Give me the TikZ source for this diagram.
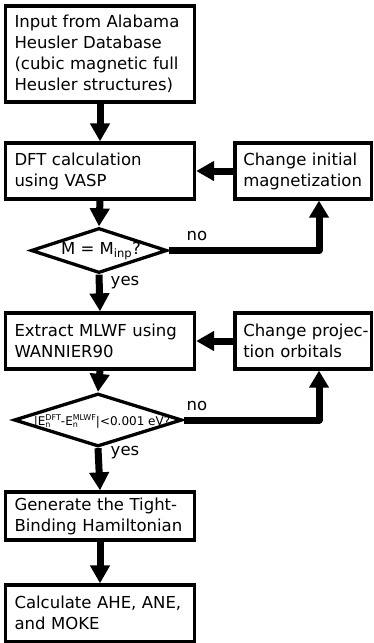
\documentclass[tikz,border=0pt]{standalone}
\usepackage{fontspec}
\setmainfont{DejaVu Sans}
\usetikzlibrary{arrows.meta,shapes.geometric}
\newcommand\ensupx[1]{E\rlap{\raisebox{-2.6pt}{\fontsize{8}{8}\selectfont n}}\raisebox{5pt}{\fontsize{8}{8}\selectfont #1}}
\begin{document}
\begin{tikzpicture}[x=1pt,y=-1pt,
  txt/.style={font=\fontsize{16.5}{21}\selectfont},
  box/.style={txt, draw=black, line width=3.3pt, rectangle, text width=171pt, inner xsep=9pt, inner ysep=0pt, align=left},
  sidebox/.style={txt, draw=black, line width=3.3pt, rectangle, text width=120pt, inner xsep=8.25pt, inner ysep=0pt, align=left},
  dec/.style={diamond, draw=black, line width=3.3pt, inner sep=0pt},
  flow/.style={line width=7pt, -{Triangle[length=18pt,width=19pt]}},
  back/.style={line width=7pt, line join=round, -{Triangle[length=17pt,width=19pt]}},
  lbl/.style={txt, inner sep=0pt}
]
\useasboundingbox (0,0) rectangle (374,643);

\node[box, minimum height=96pt] (b1) at (100,54) {Input from Alabama Heusler Database (cubic magnetic full Heusler structures)};
\node[box, minimum height=56pt] (b2) at (100,171) {DFT calculation\\using VASP};
\node[sidebox, minimum height=56pt] (c1) at (303.25,171) {Change initial\\magnetization};
\node[dec, minimum width=136pt, minimum height=45pt] (d1) at (99,250.5) {};
\node[txt, inner sep=0pt] (d1t) at (101,251) {M = M\textsubscript{inp}?};
\node[box, minimum height=56pt] (b3) at (100,341) {Extract MLWF using\\WANNIER90};
\node[sidebox, minimum height=56pt] (c2) at (303.25,341) {\mbox{Change projec-}\\\mbox{tion orbitals}};
\node[dec, minimum width=168pt, minimum height=53pt] (d2) at (98,420) {};
\node[font=\fontsize{12}{14}\selectfont, inner sep=0pt] (d2t) at (102,421) {|\ensupx{DFT}-\ensupx{MLWF}|<0.001 eV?};
\node[box, minimum height=48pt] (b4) at (100,516) {Generate the Tight-\\Binding Hamiltonian};
\node[box, minimum height=56.5pt] (b5) at (100,613.25) {Calculate AHE, ANE,\\and MOKE};

\coordinate (k1) at (319,250.5);
\coordinate (k2) at (319,420);

\draw[flow] (b1.south) -- (b2.north);
\draw[flow] (c1.west) -- (b2.east);
\draw[flow] (b2.south) -- (d1.north);
\draw[back] (d1.east) -- (k1) -- (k1 |- c1.south);
\draw[flow] (d1.south) -- (b3.north);
\draw[flow] (c2.west) -- (b3.east);
\draw[flow] (b3.south) -- (d2.north);
\draw[back] (d2.east) -- (k2) -- (k2 |- c2.south);
\draw[flow] (d2.south) -- (b4.north);
\draw[flow] (b4.south) -- (b5.north);

\node[lbl] (n1) at (197,236) {no};
\node[lbl] (y1) at (125,283) {yes};
\node[lbl] (n2) at (197,406) {no};
\node[lbl] (y2) at (125,453) {yes};
\end{tikzpicture}
\end{document}
